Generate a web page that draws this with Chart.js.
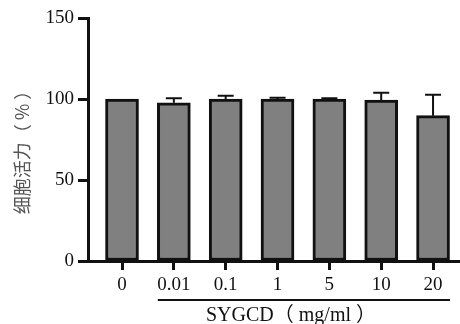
<!DOCTYPE html>
<html>
<head>
<meta charset="utf-8">
<script src="https://cdn.jsdelivr.net/npm/chart.js@4.4.0/dist/chart.umd.min.js"></script>
<style>
  html, body { margin: 0; padding: 0; background: #fff; }
  #wrap { width: 460px; height: 324px; }
</style>
</head>
<body>
<div id="wrap"><canvas id="viability"></canvas></div>
<script>
// SYGCD concentrations (mg/ml) and cell viability (%)
const doses = ['0', '0.01', '0.1', '1', '5', '10', '20'];
const viability = [100, 97.7, 100, 100, 100, 99.4, 89.7];
const errUpper = [0, 2.8, 2, 0.8, 0.5, 4.5, 12.9];
const yTicks = [0, 50, 100, 150];

const serif = '"Liberation Serif", "Times New Roman", serif';

// upper error whiskers + the bracket line and titles under the axis
const extras = {
    id: 'extras',
    afterDatasetsDraw(chart) {
        const { ctx, scales: { x, y } } = chart;
        ctx.save();
        ctx.strokeStyle = '#111';
        ctx.lineWidth = 2;
        viability.forEach((v, i) => {
            if (!errUpper[i]) return;
            const px = x.getPixelForValue(i);
            const top = y.getPixelForValue(v + errUpper[i]);
            ctx.beginPath();
            ctx.moveTo(px, y.getPixelForValue(v));
            ctx.lineTo(px, top);
            ctx.moveTo(px - 8, top);
            ctx.lineTo(px + 8, top);
            ctx.stroke();
        });
        ctx.restore();
    },
    afterDraw(chart) {
        const { ctx, scales: { x } } = chart;
        ctx.save();
        // bracket under the treated doses
        const left = x.getPixelForValue(1) - 16;
        const right = x.getPixelForValue(doses.length - 1) + 17;
        ctx.strokeStyle = '#111';
        ctx.lineWidth = 2;
        ctx.beginPath();
        ctx.moveTo(left, 300);
        ctx.lineTo(right, 300);
        ctx.stroke();

        ctx.fillStyle = '#111';
        ctx.font = '20px ' + serif + ', "Noto Sans CJK SC"';
        ctx.textAlign = 'center';
        ctx.textBaseline = 'middle';
        ctx.fillText('SYGCD（ mg/ml ）', 291, 316);

        // y title
        ctx.translate(22, 148);
        ctx.rotate(-Math.PI / 2);
        ctx.fillStyle = '#555';
        ctx.font = '18px "Noto Sans CJK SC"';
        ctx.fillText('细胞活力（ % ）', 0, 0);
        ctx.restore();
    }
};

new Chart(document.getElementById('viability'), {
    type: 'bar',
    data: {
        datasets: [{
            data: viability.map((v, i) => ({ x: i, y: v })),
            backgroundColor: '#808080',
            borderColor: '#111',
            borderWidth: 3,
            borderSkipped: false,
            barThickness: 33
        }]
    },
    options: {
        responsive: true,
        maintainAspectRatio: false,
        animation: false,
        layout: { padding: { top: 18, right: 0, bottom: 0, left: 0 } },
        plugins: { legend: { display: false }, tooltip: { enabled: false } },
        scales: {
            x: {
                type: 'linear',
                offset: false,
                min: -0.656,
                max: 6.52,
                afterBuildTicks: scale => {
                    scale.ticks = doses.map((d, i) => ({ value: i }));
                },
                afterFit: scale => { scale.height = 63; },
                grid: { offset: false, drawOnChartArea: false, tickLength: 9, tickColor: '#111', tickWidth: 3 },
                border: { color: '#111', width: 3 },
                ticks: {
                    autoSkip: false,
                    maxRotation: 0,
                    padding: 4,
                    color: '#111',
                    font: { family: serif, size: 19 },
                    callback: v => doses[v]
                }
            },
            y: {
                min: 0,
                max: 150,
                afterBuildTicks: scale => {
                    scale.ticks = yTicks.map(v => ({ value: v }));
                },
                afterFit: scale => { scale.width = 88; },
                grid: { drawOnChartArea: false, tickLength: 10, tickColor: '#111', tickWidth: 3 },
                border: { color: '#111', width: 3 },
                ticks: {
                    padding: 4,
                    color: '#111',
                    font: { family: serif, size: 19 }
                }
            }
        }
    },
    plugins: [extras]
});
</script>
</body>
</html>
